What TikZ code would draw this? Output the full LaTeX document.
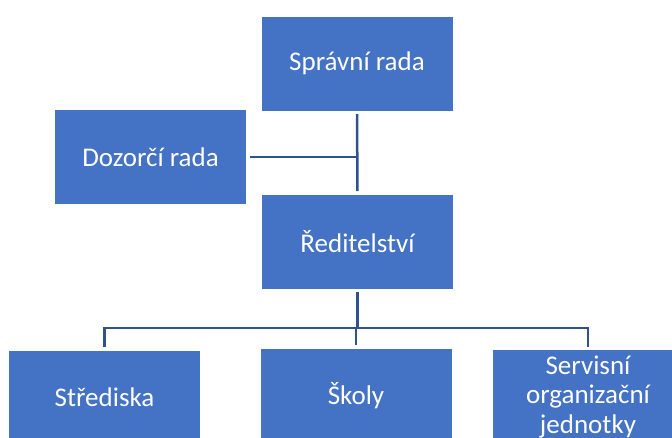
\documentclass[tikz,border=0pt]{standalone}
\usepackage{fontspec}
\setmainfont{Carlito}
\usetikzlibrary{positioning}
\definecolor{boxblue}{HTML}{4472C4}
\definecolor{linkblue}{HTML}{2F528F}
\begin{document}
\begin{tikzpicture}[x=1pt,y=-1pt,every node/.style={outer sep=0pt},
 unit/.style={draw=white,line width=1pt,fill=boxblue,text=white,inner sep=0pt,
 minimum width=192pt,minimum height=95pt,align=center,
 font=\fontsize{27}{29.5}\selectfont},
 link/.style={draw=linkblue,line width=2.5pt}]
\useasboundingbox (0,0) rectangle (672,437);
\clip (0,0) rectangle (672,437);

  \node[unit] (spravni) at (357,63.5) {Správní rada};
  \node[unit] (dozorci) at (150.5,157) {Dozorčí rada};
  \node[unit] (reditel) at (357.5,241.5) {Ředitelství};
  \node[unit] (strediska) at (104.5,397.5) {Střediska};
  \node[unit] (skoly) at (356,395.5) {Školy};
  \node[unit] (servis) at (588,397) {Servisní\\organizační\\jednotky};

\coordinate[below=39pt of reditel.south] (bus);

\draw [link,shorten <=3pt,shorten >=3pt] (spravni.south) -- (reditel.north);
\draw [link,shorten <=3pt] (dozorci.east) -- (dozorci.east -| spravni.south);
\draw [link,shorten <=3pt] (reditel.south) -- (bus);
\foreach \u in {strediska,skoly,servis}
  \draw [link,shorten >=3pt] (bus) -| (\u.north);

\end{tikzpicture}
\end{document}
